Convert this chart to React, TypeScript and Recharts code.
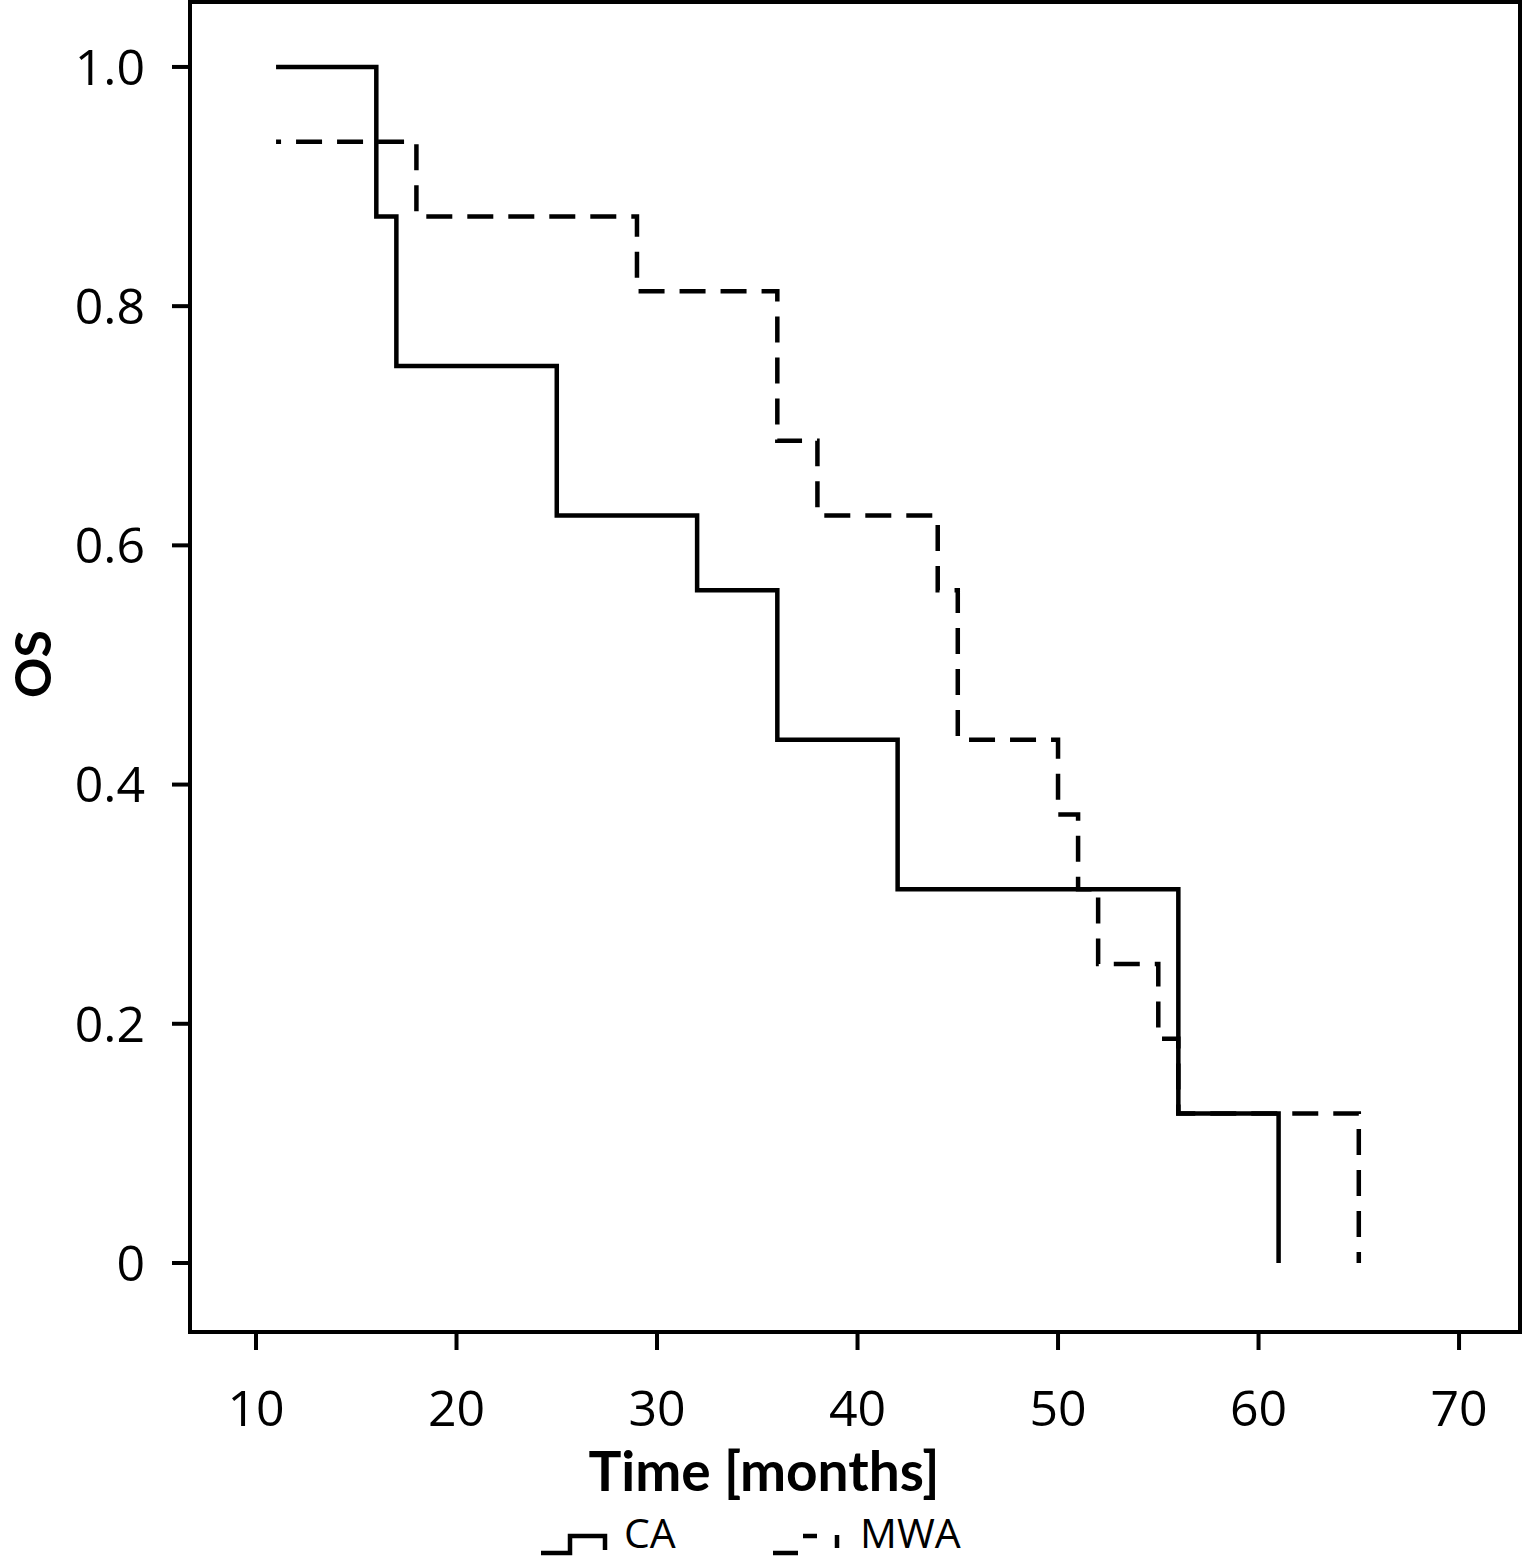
import { LineChart, Line, XAxis, YAxis, ReferenceArea } from "recharts";

// Kaplan-Meier steps
const caTimes = [11, 16, 17, 25, 32, 36, 42, 56, 61];
const caSurvival = [1.0, 0.875, 0.75, 0.625, 0.5625, 0.4375, 0.3125, 0.125, 0];

const mwaTimes = [11, 18, 29, 36, 38, 44, 45, 50, 51, 52, 55, 56, 65];
const mwaSurvival = [0.9375, 0.875, 0.8125, 0.6875, 0.625, 0.5625, 0.4375, 0.375, 0.3125, 0.25, 0.1875, 0.125, 0];

const xTicks = [10, 20, 30, 40, 50, 60, 70];
const yTicks = [0, 0.2, 0.4, 0.6, 0.8, 1.0];

const X_DOMAIN: [number, number] = [6.708, 73.04];
const Y_DOMAIN: [number, number] = [-0.0577, 1.0543];

const caData = caTimes.map((t, i) => ({ t, s: caSurvival[i] }));
const mwaData = mwaTimes.map((t, i) => ({ t, s: mwaSurvival[i] }));

const TICK_FONT = "'Open Sans', 'Noto Sans', sans-serif";
const TITLE_FONT = "Lato, 'Open Sans', sans-serif";

function YTitle() {
  return (
    <text
      x={51}
      y={664}
      transform="rotate(-90 51 664)"
      textAnchor="middle"
      fontFamily={TITLE_FONT}
      fontWeight={700}
      fontSize={50}
      fill="#000"
    >
      OS
    </text>
  );
}

function XTitle() {
  return (
    <text
      x={764}
      y={1491}
      textAnchor="middle"
      fontFamily={TITLE_FONT}
      fontWeight={700}
      fontSize={55}
      fill="#000"
    >
      Time [months]
    </text>
  );
}

const legendText = {
  position: "absolute" as const,
  top: 1504,
  fontFamily: TICK_FONT,
  fontSize: 41,
  lineHeight: "56px",
  color: "#000",
};

export default function App() {
  return (
    <div style={{ position: "absolute", left: 0, top: 0, width: 1523, height: 1561, background: "#fff", overflow: "hidden" }}>
      <LineChart width={1523} height={1561} margin={{ top: 2, right: 3, left: 0, bottom: 0 }}>
        <XAxis
          type="number"
          dataKey="t"
          domain={X_DOMAIN}
          ticks={xTicks}
          allowDataOverflow
          height={229}
          stroke="#000"
          axisLine={{ stroke: "#000", strokeWidth: 4 }}
          tickLine={{ stroke: "#000", strokeWidth: 4 }}
          tickSize={18}
          tickMargin={40}
          tick={{ fontFamily: TICK_FONT, fontSize: 50, fill: "#000" }}
          label={<XTitle />}
        />
        <YAxis
          type="number"
          dataKey="s"
          domain={Y_DOMAIN}
          ticks={yTicks}
          allowDataOverflow
          width={190}
          stroke="#000"
          axisLine={{ stroke: "#000", strokeWidth: 4 }}
          tickLine={{ stroke: "#000", strokeWidth: 4 }}
          tickSize={18}
          tickMargin={27}
          tickFormatter={(v: number) => (v === 0 ? "0" : v.toFixed(1))}
          tick={{ fontFamily: TICK_FONT, fontSize: 50, fill: "#000" }}
          label={<YTitle />}
        />
        <ReferenceArea
          x1={X_DOMAIN[0]}
          x2={X_DOMAIN[1]}
          y1={Y_DOMAIN[0]}
          y2={Y_DOMAIN[1]}
          fill="none"
          stroke="#000"
          strokeWidth={4}
          ifOverflow="visible"
        />
        <Line
          data={caData}
          dataKey="s"
          type="stepAfter"
          stroke="#000"
          strokeWidth={4.5}
          dot={false}
          activeDot={false}
          isAnimationActive={false}
        />
        <Line
          data={mwaData}
          dataKey="s"
          type="stepAfter"
          stroke="#000"
          strokeWidth={4.5}
          strokeDasharray="26 15"
          strokeDashoffset={21}
          dot={false}
          activeDot={false}
          isAnimationActive={false}
        />
      </LineChart>

      {/* legend */}
      <svg style={{ position: "absolute", left: 536, top: 1528 }} width={80} height={31}>
        <path d="M5 25 H34 V8 H69 V22" fill="none" stroke="#000" strokeWidth={4.5} />
      </svg>
      <span style={{ ...legendText, left: 624 }}>CA</span>
      <svg style={{ position: "absolute", left: 768, top: 1528 }} width={80} height={31}>
        <path d="M5 25 H30 M35 8 H49 M69 7 V20" fill="none" stroke="#000" strokeWidth={4.5} />
      </svg>
      <span style={{ ...legendText, left: 860 }}>MWA</span>
    </div>
  );
}
